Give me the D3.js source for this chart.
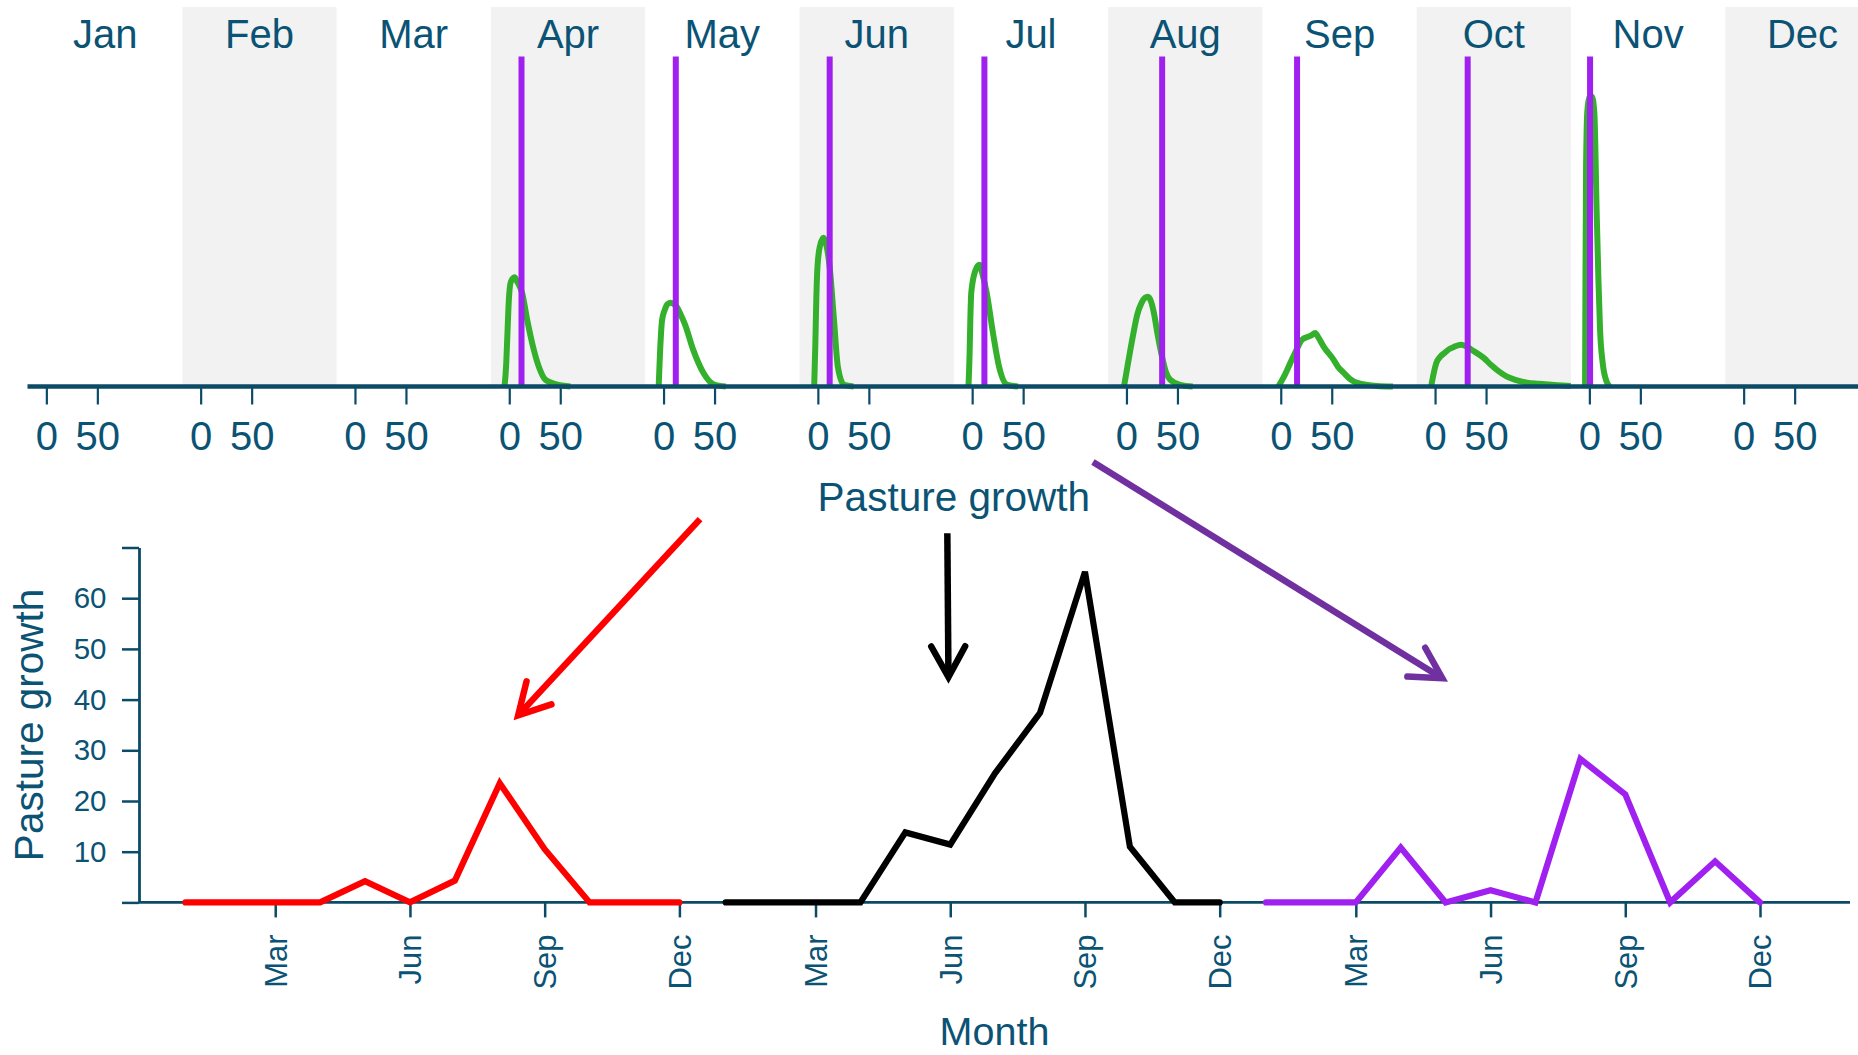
<!DOCTYPE html>
<html>
<head>
<meta charset="utf-8">
<script src="https://cdn.jsdelivr.net/npm/d3@7"></script>
<style>
  html, body { margin: 0; padding: 0; background: #ffffff; overflow: hidden; }
  svg { display: block; }
  text { font-family: "Liberation Sans", Arial, Helvetica, sans-serif; }
</style>
</head>
<body>
<svg id="chart" width="1858" height="1055"></svg>
<script>
// ---------- data ----------
const months = ["Jan", "Feb", "Mar", "Apr", "May", "Jun", "Jul", "Aug", "Sep", "Oct", "Nov", "Dec"];
const growthAxisTicks = [0, 50];

// density of pasture growth per month: [growth, density]
const densJan = [];
const densFeb = [];
const densMar = [];
const densApr = [[-4.6, 0], [-3, 0.008], [-1.5, 0.022], [-0.4, 0.0315], [1.5, 0.038], [5.2, 0.0397], [8, 0.038], [12.7, 0.0339], [17.6, 0.0242], [22.5, 0.0157], [29, 0.0072], [35.6, 0.0024], [45.4, 0.0009], [60, 0]];
const densMay = [[-4.8, 0], [-3.5, 0.012], [-1.5, 0.024], [1.2, 0.0279], [4, 0.030], [7.2, 0.0305], [10, 0.030], [13, 0.0289], [17, 0.026], [21, 0.0226], [29, 0.0134], [39, 0.005], [49, 0.0008], [61, 0]];
const densJun = [[-3.6, 0], [-2.5, 0.015], [-1.5, 0.032], [-0.4, 0.0433], [2, 0.051], [5.5, 0.0541], [8, 0.052], [11.6, 0.0433], [15.6, 0.0253], [19.6, 0.0072], [25.6, 0.0006], [35, 0]];
const densJul = [[-3.6, 0], [-2.5, 0.012], [-1.8, 0.024], [-0.9, 0.034], [3, 0.042], [7.1, 0.0443], [10, 0.041], [14.3, 0.034], [20.4, 0.0195], [26.4, 0.0072], [34.4, 0.0006], [45, 0]];
const densAug = [[-2.4, 0], [2, 0.0095], [6.9, 0.0195], [10.5, 0.026], [14.8, 0.0304], [18, 0.0322], [20.9, 0.0326], [24, 0.031], [26.9, 0.0268], [30.5, 0.019], [34.9, 0.0108], [38.5, 0.0055], [42.8, 0.0025], [52.8, 0.0006], [65, 0]];
const densSep = [[-2.4, 0], [3, 0.0035], [9.3, 0.0085], [15, 0.013], [20.9, 0.017], [26.8, 0.0181], [30, 0.0186], [33.7, 0.0195], [37, 0.0178], [42.2, 0.0144], [51.9, 0.0097], [56, 0.0072], [61.7, 0.005], [68, 0.0027], [75.2, 0.0013], [94.6, 0.0002], [110, 0]];
const densOct = [[-3.8, 0], [-1.5, 0.0045], [1.2, 0.0085], [5, 0.0108], [9, 0.0121], [13.5, 0.0135], [18.6, 0.0144], [25.6, 0.0152], [30.5, 0.0146], [36.1, 0.0133], [47.7, 0.0104], [55, 0.0078], [63.2, 0.0053], [70, 0.0037], [78.7, 0.0024], [90, 0.0014], [102, 0.001], [120, 0.0005], [133, 0.0002]];
const densNov = [[-4.2, 0], [-3.8, 0.04], [-3.2, 0.08], [-2, 0.1], [0, 0.1052], [2.5, 0.1055], [4.9, 0.0995], [7.2, 0.0631], [8.9, 0.0387], [10.5, 0.0205], [13.1, 0.0085], [17, 0.0017], [20, 0]];
const densDec = [];

// observed growth marked in each month
const observedGrowth = [null, null, null, 12, 12, 11.6, 12, 35, 16, 32, 0.7, null];

// monthly pasture growth, three series
const growthRed    = [0, 0, 0, 0, 4.2, 0, 4.3, 23.5, 10.5, 0, 0, 0];
const growthBlack  = [0, 0, 0, 0, 13.8, 11.4, 25.5, 37.4, 65.2, 11, 0, 0];
const growthPurple = [0, 0, 0, 10.8, 0, 2.4, 0, 28.3, 21.3, 0, 8.1, 0];

const growthTicks = [0, 10, 20, 30, 40, 50, 60, 70];
const growthTickLabels = [10, 20, 30, 40, 50, 60];
const monthTickLabels = ["Mar", "Jun", "Sep", "Dec"];

// arrows from the upper strip down to each series, in (month, growth) units of the series
const arrowPanels = [0, 1, 2];
const arrowFrom = [[12.46, 75.6], [5.935, 72.8], [-2.853, 86.86]];
const arrowTo   = [[8.41, 36.9], [5.96, 44.46], [4.926, 44.2]];

// ---------- styles ----------
const TEXT = "#0b5374";
const AXIS = "#0c4b67";
const GREEN = "#34b02d";
const MARK = "#a020f0";
const seriesColors = ["#ff0000", "#000000", "#a020f0"];
const arrowColors = ["#ff0000", "#000000", "#7030a0"];
const densities = [densJan, densFeb, densMar, densApr, densMay, densJun, densJul, densAug, densSep, densOct, densNov, densDec];
const seriesList = [growthRed, growthBlack, growthPurple];
const FONT = "\"Liberation Sans\", Arial, sans-serif";

const svg = d3.select("#chart");

// ================= upper strip: monthly densities =================
const stripTop = 7, baseY = 386.5, densTop = 56.5;
const panelStart = 28, panelWidth = 154.3;
const band = d3.scaleBand().domain(months).range([panelStart, panelStart + panelWidth * months.length]).padding(0);
const yDens = d3.scaleLinear().domain([0, 0.12]).range([baseY, densTop]);

const upper = svg.append("g");

months.forEach((m, i) => {
  const x0 = band(m);
  const xs = d3.scaleLinear().domain([-18, 133.3]).range([x0, x0 + band.bandwidth()]);
  const pg = upper.append("g");

  if (i % 2 === 1) {
    pg.append("rect")
      .attr("x", x0).attr("y", stripTop)
      .attr("width", band.bandwidth()).attr("height", baseY - stripTop)
      .attr("fill", "#f2f2f2");
  }

  pg.append("text")
    .attr("x", x0 + band.bandwidth() / 2).attr("y", 48)
    .attr("text-anchor", "middle")
    .attr("font-size", 40).attr("fill", TEXT)
    .text(m);

  const dens = densities[i];
  if (dens.length) {
    pg.append("path")
      .datum(dens)
      .attr("fill", "none")
      .attr("stroke", GREEN)
      .attr("stroke-width", 6)
      .attr("stroke-linejoin", "round")
      .attr("d", d3.line().x(d => xs(d[0])).y(d => yDens(d[1])).curve(d3.curveMonotoneX));
  }

  if (observedGrowth[i] !== null) {
    pg.append("line")
      .attr("x1", xs(observedGrowth[i])).attr("x2", xs(observedGrowth[i]))
      .attr("y1", yDens(0)).attr("y2", yDens(0.12))
      .attr("stroke", MARK).attr("stroke-width", 6);
  }

  const ax = pg.append("g")
    .attr("transform", `translate(0,${baseY})`)
    .call(d3.axisBottom(xs).tickValues(growthAxisTicks).tickSize(18).tickSizeOuter(0).tickPadding(17));
  ax.select(".domain").remove();
  ax.selectAll(".tick line").attr("stroke", AXIS).attr("stroke-width", 2.2);
  ax.selectAll(".tick text").attr("fill", TEXT).attr("font-size", 40).attr("font-family", FONT);
});

upper.append("line")
  .attr("x1", panelStart - 0.5).attr("x2", 1858)
  .attr("y1", baseY).attr("y2", baseY)
  .attr("stroke", AXIS).attr("stroke-width", 4.3);

upper.append("text")
  .attr("x", panelStart + panelWidth * 6).attr("y", 511)
  .attr("text-anchor", "middle")
  .attr("font-size", 40.5).attr("fill", TEXT)
  .text("Pasture growth");

// ================= lower chart: monthly growth series =================
const yAxisX = 139, lowBase = 902.4, lowTop = 547.5;
const yG = d3.scaleLinear().domain([0, 70]).range([lowBase, lowTop]);
const seriesOffset = 540.3;
const xSeries = seriesList.map((s, p) =>
  d3.scaleLinear().domain([1, 12]).range([185.4 + p * seriesOffset, 679.4 + p * seriesOffset]));

const lower = svg.append("g");

// y axis
const yAx = lower.append("g")
  .attr("transform", `translate(${yAxisX},0)`)
  .call(d3.axisLeft(yG).tickValues(growthTicks).tickSize(17).tickSizeOuter(0).tickPadding(15.5)
    .tickFormat(d => growthTickLabels.includes(d) ? d : ""));
yAx.select(".domain").attr("stroke", AXIS).attr("stroke-width", 2.8);
yAx.selectAll(".tick line").attr("stroke", AXIS).attr("stroke-width", 2.5);
yAx.selectAll(".tick text").attr("fill", TEXT).attr("font-size", 29.5).attr("font-family", FONT);

// x baseline
lower.append("line")
  .attr("x1", yAxisX).attr("x2", 1850)
  .attr("y1", lowBase).attr("y2", lowBase)
  .attr("stroke", AXIS).attr("stroke-width", 2.8);

// month ticks for each series
const monthIdx = monthTickLabels.map(l => months.indexOf(l) + 1);
xSeries.forEach((xs) => {
  const gx = lower.append("g")
    .attr("transform", `translate(0,${lowBase})`)
    .call(d3.axisBottom(xs).tickValues(monthIdx).tickSize(15).tickSizeOuter(0)
      .tickFormat(d => months[d - 1]));
  gx.select(".domain").remove();
  gx.selectAll(".tick line").attr("stroke", AXIS).attr("stroke-width", 2.5);
  gx.selectAll(".tick text")
    .attr("fill", TEXT).attr("font-size", 31).attr("font-family", FONT)
    .attr("text-anchor", "end")
    .attr("transform", "rotate(-90)")
    .attr("x", -32).attr("y", 0).attr("dy", "0.35em");
});

// series lines
seriesList.forEach((vals, p) => {
  lower.append("path")
    .datum(vals)
    .attr("fill", "none")
    .attr("stroke", seriesColors[p])
    .attr("stroke-width", 6.2)
    .attr("stroke-linecap", "round")
    .attr("stroke-linejoin", "miter")
    .attr("d", d3.line().x((d, i) => xSeries[p](i + 1)).y(d => yG(d)));
});

// axis titles
lower.append("text")
  .attr("transform", `translate(43,${(lowBase + lowTop) / 2}) rotate(-90)`)
  .attr("text-anchor", "middle")
  .attr("font-size", 40.5).attr("fill", TEXT)
  .text("Pasture growth");

lower.append("text")
  .attr("x", (yAxisX + 1850) / 2).attr("y", 1045)
  .attr("text-anchor", "middle")
  .attr("font-size", 39.5).attr("fill", TEXT)
  .text("Month");

// ================= arrows =================
const headLen = 35, headAngle = 29 * Math.PI / 180;
arrowPanels.forEach((p, k) => {
  const xs = xSeries[p];
  const x1 = xs(arrowFrom[k][0]), y1 = yG(arrowFrom[k][1]);
  const x2 = xs(arrowTo[k][0]), y2 = yG(arrowTo[k][1]);
  const back = Math.atan2(y1 - y2, x1 - x2);
  const a1 = [x2 + headLen * Math.cos(back + headAngle), y2 + headLen * Math.sin(back + headAngle)];
  const a2 = [x2 + headLen * Math.cos(back - headAngle), y2 + headLen * Math.sin(back - headAngle)];
  const ag = svg.append("g").attr("stroke", arrowColors[k]).attr("fill", "none").attr("stroke-width", 6.5);
  ag.append("line")
    .attr("x1", x1).attr("y1", y1).attr("x2", x2 + 3 * Math.cos(back)).attr("y2", y2 + 3 * Math.sin(back))
    .attr("stroke-linecap", "butt");
  ag.append("path")
    .attr("d", d3.line()([a1, [x2, y2], a2]))
    .attr("stroke-linecap", "round")
    .attr("stroke-linejoin", "miter")
    .attr("stroke-miterlimit", 10);
});
</script>
</body>
</html>
